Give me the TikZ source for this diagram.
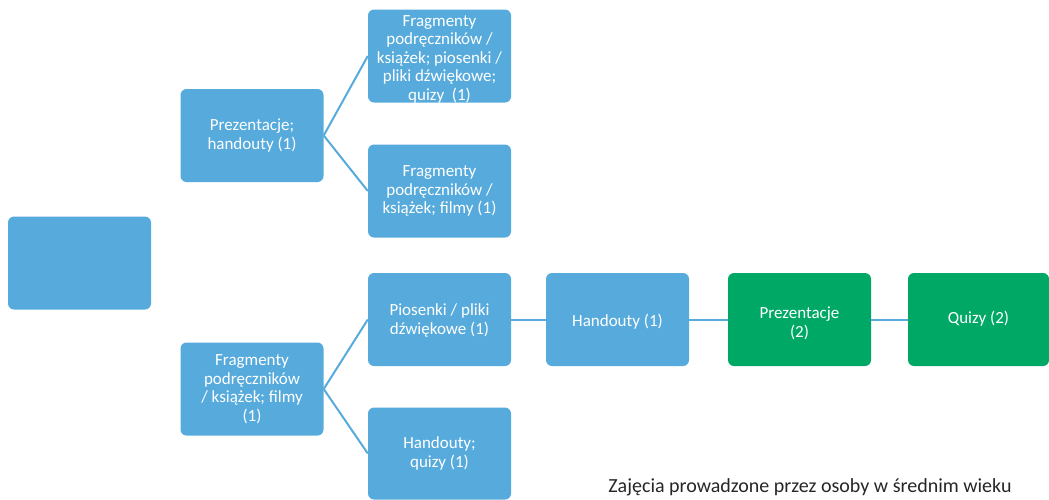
\documentclass[tikz,border=0pt]{standalone}
\usepackage{fontspec}
\setmainfont{Carlito}
\definecolor{boxblue}{HTML}{57ABDC}
\definecolor{boxgreen}{HTML}{00A866}
\definecolor{linkblue}{HTML}{57ABDC}
\begin{document}
\begin{tikzpicture}[x=1pt,y=-1pt,
  txt/.style={text=white,align=center,inner sep=0pt,font=\fontsize{17}{18.5}\selectfont},
  box/.style={draw=none,fill=boxblue,rounded corners=6pt,minimum width=143pt,minimum height=93pt,txt},
  gbox/.style={box,fill=boxgreen},
  link/.style={draw=linkblue,line width=2pt}]
\useasboundingbox (0,0) rectangle (1049,499);
\node[box] (root) at (79.5,263) {};
\node[box] (prez) at (252,135.5) {Prezentacje;\\handouty (1)};
\node[box,label={[txt,yshift=-3pt]center:{Fragmenty\\podręczników /\\książek; piosenki /\\pliki dźwiękowe;\\quizy\ \ (1)}}] (frag1) at (439.5,56) {};
\node[box] (frag2) at (439.5,191) {Fragmenty\\podręczników /\\książek; filmy (1)};
\node[box] (frag3) at (252,389) {Fragmenty\\podręczników\\/ książek; filmy\\(1)};
\node[box,label={[txt,yshift=-1pt]center:{Piosenki / pliki\\dźwiękowe (1)}}] (pios) at (439.5,319.5) {};
\node[box,minimum height=92pt] (handq) at (439.5,453.5) {Handouty;\\quizy (1)};
\node[box,label={[txt,yshift=-2pt]center:{Handouty (1)}}] (hand) at (617.5,319.5) {};
\node[gbox,label={[txt,yshift=-4pt]center:{Prezentacje\\(2)}}] (prez2) at (799.5,319.5) {};
\node[gbox,minimum width=141pt,label={[txt,yshift=1pt]center:{Quizy (2)}}] (quiz) at (978.5,319.5) {};
\draw[link] (prez.east) -- (frag1.west);
\draw[link] (prez.east) -- (frag2.west);
\draw[link] (frag3.east) -- (pios.west);
\draw[link] (frag3.east) -- (handq.west);
\draw[link] (pios.east) -- (hand.west);
\draw[link] (hand.east) -- (prez2.west);
\draw[link] (prez2.east) -- (quiz.west);
\node[font=\fontsize{20}{22}\selectfont,text=black!85] (cap) at (810,487) {Zajęcia prowadzone przez osoby w średnim wieku};
\end{tikzpicture}
\end{document}
